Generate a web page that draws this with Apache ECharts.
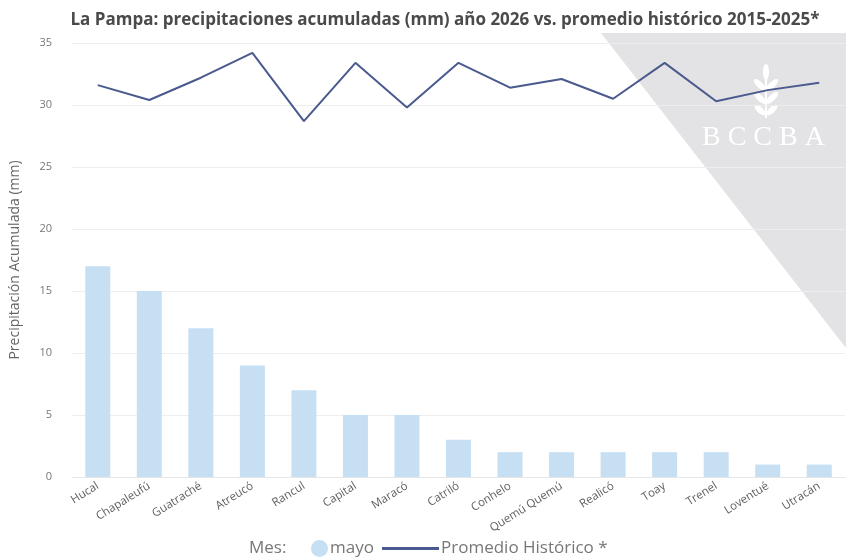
<!DOCTYPE html>
<html>
<head>
<meta charset="utf-8">
<script src="https://cdn.jsdelivr.net/npm/echarts@6/dist/echarts.min.js"></script>
<style>
  html, body { margin: 0; padding: 0; background: #fff; }
  #chart { width: 846px; height: 560px; }
</style>
</head>
<body>
<div id="chart"></div>
<script>
// departamentos de La Pampa
const departamentos = [
  'Hucal', 'Chapaleufú', 'Guatraché', 'Atreucó', 'Rancul', 'Capital', 'Maracó',
  'Catriló', 'Conhelo', 'Quemú Quemú', 'Realicó', 'Toay', 'Trenel', 'Loventué', 'Utracán',
];
// mayo 2026 (mm)
const mayo = [17, 15, 12, 9, 7, 5, 5, 3, 2, 2, 2, 2, 2, 1, 1];
// promedio historico 2015-2025 (mm)
const promedio = [31.6, 30.4, 32.2, 34.2, 28.7, 33.4, 29.8, 33.4, 31.4, 32.1, 30.5, 33.4, 30.3, 31.2, 31.8];
const yTicks = [0, 5, 10, 15, 20, 25, 30, 35];

const BAR = '#c6dff3';
const LINE = '#4b5a8e';
const font = '"Open Sans", "Noto Sans", sans-serif';

const chart = echarts.init(document.getElementById('chart'));

chart.setOption({
  animation: false,
  textStyle: { fontFamily: font },
  title: {
    text: 'La Pampa: precipitaciones acumuladas (mm) año 2026 vs. promedio histórico 2015-2025*',
    left: 440,
    textAlign: 'center',
    top: 7,
    textStyle: { fontSize: 17, fontWeight: 'bold', color: '#4a4a4a', fontFamily: font },
  },
  grid: { left: 70, right: 1, top: 43, bottom: 83 },
  legend: [
    {
      data: [{ name: 'mayo', icon: 'circle' }],
      left: 306, top: 535,
      itemWidth: 17, itemHeight: 17, itemGap: 0,
      textStyle: { fontSize: 17, color: '#777', padding: [0, 0, 0, -3] },
    },
    {
      data: [{ name: 'Promedio Histórico *', icon: 'rect' }],
      left: 377, top: 535,
      itemWidth: 57, itemHeight: 3,
      textStyle: { fontSize: 17, color: '#777', padding: [0, 0, 0, -3] },
    },
  ],
  xAxis: {
    type: 'category',
    data: departamentos,
    axisLine: { lineStyle: { color: '#e6e6e6' } },
    axisTick: { show: false },
    axisLabel: { rotate: 32, color: '#5f5f5f', fontSize: 11.5, margin: 8 },
  },
  yAxis: {
    type: 'value',
    min: yTicks[0],
    max: yTicks[yTicks.length - 1],
    interval: 5,
    name: 'Precipitación Acumulada (mm)',
    nameLocation: 'middle',
    nameGap: 50,
    nameTextStyle: { fontSize: 14, color: '#666' },
    axisLabel: { color: '#777', fontSize: 11, margin: 20 },
    splitLine: { lineStyle: { color: '#eeeeee' } },
  },
  series: [
    {
      name: 'mayo',
      type: 'bar',
      data: mayo,
      barWidth: 25,
      itemStyle: { color: BAR },
      z: 2,
    },
    {
      name: 'Promedio Histórico *',
      type: 'line',
      data: promedio,
      symbol: 'none',
      lineStyle: { color: LINE, width: 2 },
      itemStyle: { color: LINE },
      z: 3,
    },
  ],
  graphic: [
    {
      type: 'polygon',
      z: -10,
      silent: true,
      shape: { points: [[601, 33], [846, 33], [846, 348]] },
      style: { fill: '#e3e2e4' },
    },
    {
      type: 'text',
      z: 100,
      left: 702, top: 124,
      silent: true,
      style: {
        text: 'B C C B A',
        font: '28px "Liberation Serif", "DejaVu Serif", serif',
        fill: '#ffffff',
      },
    },
    {
      // espiga del logo
      type: 'group',
      z: 100,
      silent: true,
      children: [
        { type: 'line', shape: { x1: 766, y1: 70, x2: 766, y2: 118 }, style: { stroke: '#fff', lineWidth: 2 } },
        { type: 'ellipse', shape: { cx: 766, cy: 72, rx: 3, ry: 8 }, style: { fill: '#fff' } },
        { type: 'ellipse', shape: { cx: 760, cy: 85, rx: 3, ry: 8 }, rotation: 0.8, originX: 760, originY: 85, style: { fill: '#fff' } },
        { type: 'ellipse', shape: { cx: 772, cy: 85, rx: 3, ry: 8 }, rotation: -0.8, originX: 772, originY: 85, style: { fill: '#fff' } },
        { type: 'ellipse', shape: { cx: 760, cy: 98, rx: 3, ry: 8 }, rotation: 0.8, originX: 760, originY: 98, style: { fill: '#fff' } },
        { type: 'ellipse', shape: { cx: 772, cy: 98, rx: 3, ry: 8 }, rotation: -0.8, originX: 772, originY: 98, style: { fill: '#fff' } },
        { type: 'ellipse', shape: { cx: 760, cy: 110, rx: 3, ry: 7 }, rotation: 0.8, originX: 760, originY: 110, style: { fill: '#fff' } },
        { type: 'ellipse', shape: { cx: 772, cy: 110, rx: 3, ry: 7 }, rotation: -0.8, originX: 772, originY: 110, style: { fill: '#fff' } },
      ],
    },
    {
      type: 'text',
      left: 249, top: 540,
      style: { text: 'Mes:', font: '17px ' + font, fill: '#777' },
    },
  ],
});
</script>
</body>
</html>
